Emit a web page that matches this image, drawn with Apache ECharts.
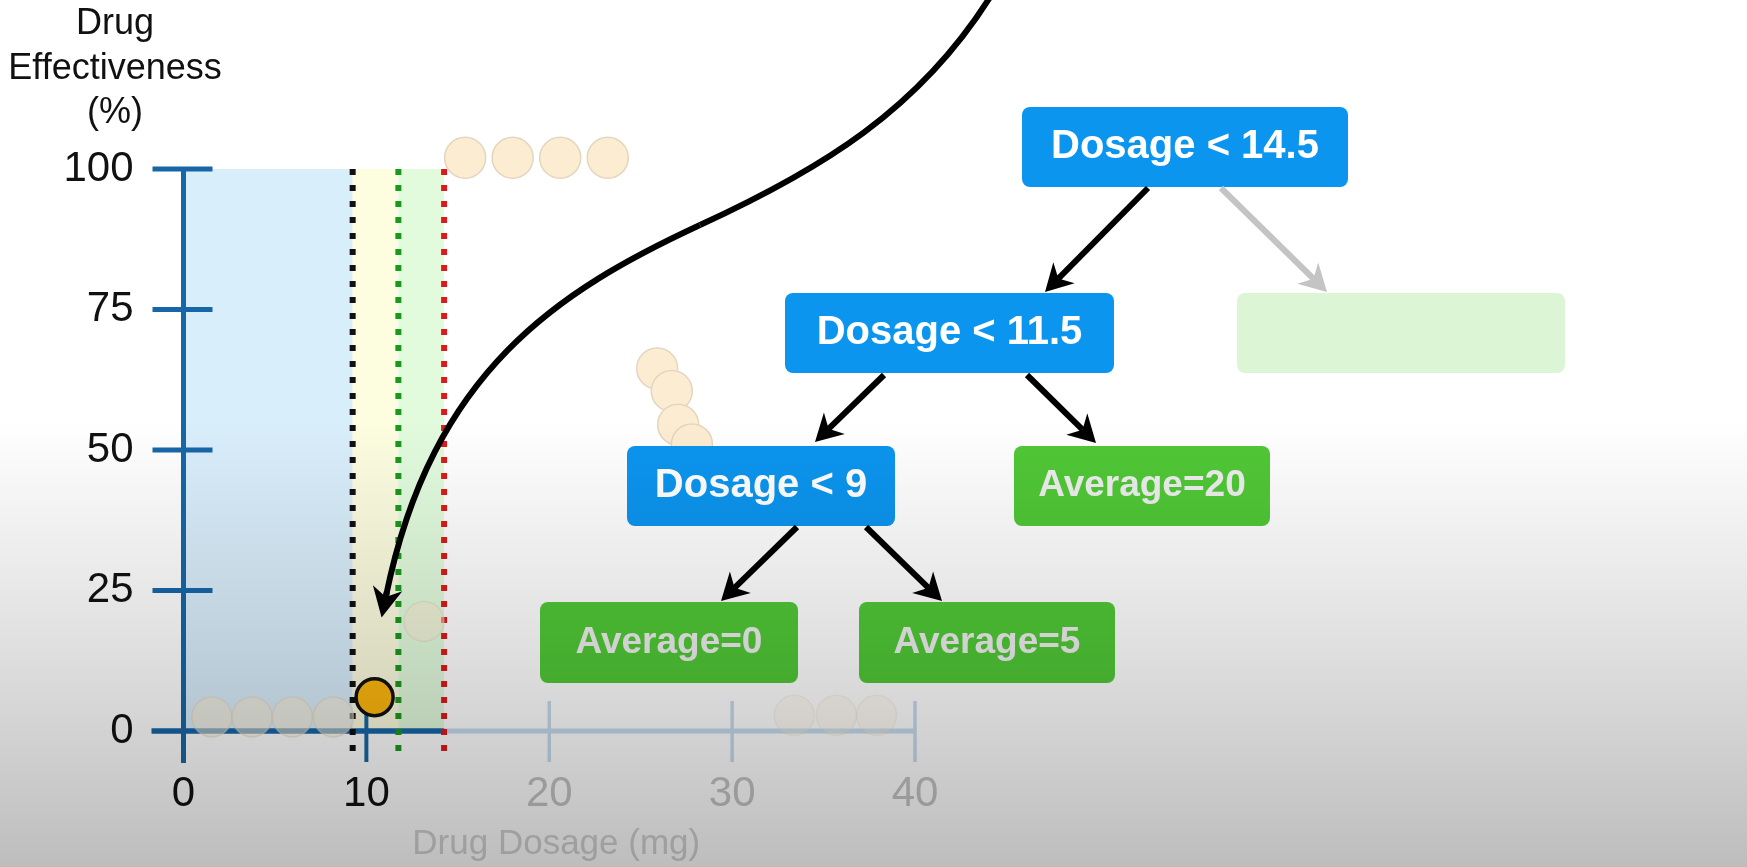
<!DOCTYPE html>
<html>
<head>
<meta charset="utf-8">
<script src="https://cdn.jsdelivr.net/npm/echarts@6/dist/echarts.min.js"></script>
<style>
html,body{margin:0;padding:0;background:#ffffff;}
#c{width:1747px;height:867px;}
</style>
</head>
<body>
<div id="c"></div>
<script>
// ---------------- data ----------------
const xTicks = [0, 10, 20, 30, 40];
const yTicks = [0, 25, 50, 75, 100];
const splitValues = [9.25, 11.75, 14.25];           // dotted split lines (black, green, red)

const lowLeftX  = [1.55, 3.75, 5.95, 8.2];
const lowLeftY  = [2.5, 2.5, 2.5, 2.5];
const highlightX = [10.45];
const highlightY = [6];
const midX = [13.15];
const midY = [19.5];
const topX = [15.4, 18.0, 20.6, 23.2];
const topY = [102, 102, 102, 102];
const chainX = [25.9, 26.7, 27.05, 27.8];
const chainY = [64.5, 60.5, 54.5, 51.0];
const lowRightX = [33.4, 35.7, 37.9];
const lowRightY = [2.8, 2.8, 2.8];

const nodeLabels = ['Dosage < 14.5', 'Dosage < 11.5', 'Dosage < 9', 'Average=20', 'Average=0', 'Average=5', ''];

const xTitle = 'Drug Dosage (mg)';
const yTitle = 'Drug\nEffectiveness\n(%)';

// ---------------- helpers ----------------
const zip = (a, b) => a.map((v, i) => [v, b[i]]);
const FONT = '"Liberation Sans", Arial, Helvetica, sans-serif';
const DARK_AXIS = '#1767a8';
const FADE_AXIS = '#c6dbee';
const regionColors = ['#d9eefb', '#fdfde0', '#e2fbdd'];
const splitColors = ['#111111', '#1a9a1a', '#dd1a1a'];

const chart = echarts.init(document.getElementById('c'));

function arrowEls(x1, y1, x2, y2, color, width, len, half) {
  const dx = x2 - x1, dy = y2 - y1;
  const d = Math.sqrt(dx * dx + dy * dy);
  const ux = dx / d, uy = dy / d;
  const px = -uy, py = ux;
  const bx = x2 - ux * len, by = y2 - uy * len;
  const nx = x2 - ux * len * 0.7, ny = y2 - uy * len * 0.7;
  return [
    {type: 'line', z: 60, shape: {x1: x1, y1: y1, x2: nx, y2: ny},
     style: {stroke: color, lineWidth: width, lineCap: 'butt'}},
    {type: 'polygon', z: 60, shape: {points: [[x2, y2], [bx + px * half, by + py * half], [nx, ny], [bx - px * half, by - py * half]]},
     style: {fill: color}}
  ];
}

const boxes = [
  {t: nodeLabels[0], x: 1022, y: 107, w: 326, h: 80, fill: '#0b95ef', tc: '#ffffff', fs: 40},
  {t: nodeLabels[6], x: 1237, y: 293, w: 328, h: 80, fill: '#dcf5d5', tc: '#ffffff', fs: 40},
  {t: nodeLabels[1], x: 785, y: 293, w: 329, h: 80, fill: '#0b95ef', tc: '#ffffff', fs: 40},
  {t: nodeLabels[3], x: 1014, y: 446, w: 256, h: 80, fill: '#50c836', tc: '#eeeeee', fs: 37},
  {t: nodeLabels[2], x: 627, y: 446, w: 268, h: 80, fill: '#0b95ef', tc: '#ffffff', fs: 40},
  {t: nodeLabels[4], x: 540, y: 602, w: 258, h: 81, fill: '#50c836', tc: '#eeeeee', fs: 37},
  {t: nodeLabels[5], x: 859, y: 602, w: 256, h: 81, fill: '#50c836', tc: '#eeeeee', fs: 37}
];

const graphics = [];
boxes.forEach(b => {
  graphics.push({type: 'rect', z: 55, shape: {x: b.x, y: b.y, width: b.w, height: b.h, r: 8}, style: {fill: b.fill}});
  if (b.t) {
    graphics.push({type: 'text', z: 56, x: b.x + b.w / 2, y: b.y + b.h / 2,
      style: {text: b.t, fill: b.tc, font: 'bold ' + b.fs + 'px ' + FONT,
              align: 'center', verticalAlign: 'middle', textAlign: 'center', textVerticalAlign: 'middle'}});
  }
});
// tree arrows
[].concat(
  arrowEls(1148, 188, 1045, 292, '#000', 6, 27, 15),
  arrowEls(1221, 188, 1327, 292, '#c4c4c4', 6, 27, 15),
  arrowEls(884, 375, 815, 442, '#000', 6, 27, 15),
  arrowEls(1027, 375, 1096, 443, '#000', 6, 27, 15),
  arrowEls(797, 527, 721, 601, '#000', 6, 27, 15),
  arrowEls(866, 527, 942, 601, '#000', 6, 27, 15)
).forEach(e => graphics.push(e));

// big S curve arrow
graphics.push({type: 'bezierCurve', z: 60,
  shape: {x1: 992, y1: -6, cpx1: 920, cpy1: 110, cpx2: 820, cpy2: 170, x2: 700, y2: 225},
  style: {stroke: '#000', lineWidth: 6, fill: null}});
graphics.push({type: 'bezierCurve', z: 60,
  shape: {x1: 700, y1: 225, cpx1: 560, cpy1: 290, cpx2: 432, cpy2: 370, x2: 386, y2: 596},
  style: {stroke: '#000', lineWidth: 6, fill: null}});
(function () {
  const dx = 386 - 432, dy = 596 - 370, d = Math.sqrt(dx * dx + dy * dy);
  const ux = dx / d, uy = dy / d;
  const tx = 386 + ux * 22, ty = 596 + uy * 22;
  arrowEls(386 - ux * 4, 596 - uy * 4, tx, ty, '#000', 6, 30, 15).forEach(e => graphics.push(e));
})();

// y title
graphics.push({type: 'text', z: 56, x: 115, y: 2,
  style: {text: yTitle, fill: '#111', font: '36px ' + FONT, lineHeight: 44.5,
          align: 'center', verticalAlign: 'top', textAlign: 'center', textVerticalAlign: 'top'}});

// video-like grey vignette at the bottom
graphics.push({type: 'rect', z: 200, silent: true,
  shape: {x: 0, y: 420, width: 1747, height: 447},
  style: {fill: new echarts.graphic.LinearGradient(0, 0, 0, 1, [
    {offset: 0, color: 'rgba(0,0,0,0)'},
    {offset: 0.5, color: 'rgba(0,0,0,0.12)'},
    {offset: 1, color: 'rgba(0,0,0,0.26)'}])}});

const circleStyle = (op) => ({color: '#fcecd2', borderColor: '#e3d6bf', borderWidth: 1.5, opacity: op});

const option = {
  animation: false,
  backgroundColor: '#ffffff',
  grid: {left: 183.5, top: 169, width: 731.5, height: 562, containLabel: false},
  xAxis: {
    type: 'value', min: 0, max: 40, interval: 10,
    axisLine: {show: false}, axisTick: {show: false}, splitLine: {show: false},
    axisLabel: {fontSize: 42, fontFamily: FONT, margin: 42,
      color: (v) => (Number(v) <= 10 ? '#111111' : '#c4c4c4')},
    name: xTitle, nameLocation: 'middle', nameGap: 96,
    nameTextStyle: {fontSize: 35, fontFamily: FONT, color: '#d2d2d2', padding: [0, 0, 0, 14]}
  },
  yAxis: {
    type: 'value', min: 0, max: 100, interval: 25,
    axisLine: {show: false}, axisTick: {show: false}, splitLine: {show: false},
    axisLabel: {fontSize: 42, fontFamily: FONT, margin: 50, color: '#111111'}
  },
  graphic: {elements: graphics},
  series: [
    { // shaded regions between splits
      type: 'custom', z: 1, silent: true, clip: false,
      data: [[0, splitValues[0]], [splitValues[0], splitValues[1]], [splitValues[1], splitValues[2]]],
      renderItem: (params, api) => {
        const p0 = api.coord([api.value(0), 100]);
        const p1 = api.coord([api.value(1), 0]);
        return {type: 'rect', shape: {x: p0[0], y: p0[1], width: p1[0] - p0[0], height: p1[1] - p0[1]},
                style: {fill: regionColors[params.dataIndex]}};
      }
    },
    { // axes lines & ticks drawn through the scales
      type: 'custom', z: 3, silent: true, clip: false,
      data: [[0]],
      renderItem: (params, api) => {
        const o = api.coord([0, 0]);
        const top = api.coord([0, 100]);
        const cut = api.coord([splitValues[2], 0]);
        const end = api.coord([40, 0]);
        const ch = [];
        ch.push({type: 'line', shape: {x1: cut[0], y1: o[1], x2: end[0], y2: o[1]}, style: {stroke: FADE_AXIS, lineWidth: 5}});
        xTicks.forEach(t => {
          if (t === 0) return;
          const p = api.coord([t, 0]);
          const c = t <= 10 ? DARK_AXIS : FADE_AXIS;
          ch.push({type: 'line', shape: {x1: p[0], y1: p[1] - 30, x2: p[0], y2: p[1] + 31}, style: {stroke: c, lineWidth: t <= 10 ? 4 : 3.5}});
        });
        ch.push({type: 'line', shape: {x1: o[0] - 32, y1: o[1], x2: cut[0], y2: o[1]}, style: {stroke: DARK_AXIS, lineWidth: 5.5}});
        ch.push({type: 'line', shape: {x1: top[0], y1: top[1], x2: o[0], y2: o[1] + 32}, style: {stroke: DARK_AXIS, lineWidth: 5}});
        yTicks.forEach(t => {
          if (t === 0) return;
          const p = api.coord([0, t]);
          ch.push({type: 'line', shape: {x1: p[0] - 31, y1: p[1], x2: p[0] + 29, y2: p[1]}, style: {stroke: DARK_AXIS, lineWidth: 5}});
        });
        return {type: 'group', children: ch};
      }
    },
    // dotted split lines
    ...splitValues.map((s, i) => ({
      type: 'line', z: 4, silent: true, clip: false, symbol: 'none',
      data: [[s, 100], [s, -5]],
      lineStyle: {color: splitColors[i], width: 6, type: [6, 10], cap: 'butt'}
    })),
    {type: 'scatter', z: 5, clip: false, symbolSize: 41, data: zip(topX, topY), itemStyle: circleStyle(1)},
    {type: 'scatter', z: 5, clip: false, symbolSize: 41, data: zip(chainX, chainY), itemStyle: circleStyle(1)},
    {type: 'scatter', z: 5, clip: false, symbolSize: 40, data: zip(lowLeftX, lowLeftY), itemStyle: circleStyle(0.55)},
    {type: 'scatter', z: 5, clip: false, symbolSize: 40, data: zip(midX, midY), itemStyle: circleStyle(0.5)},
    {type: 'scatter', z: 5, clip: false, symbolSize: 40, data: zip(lowRightX, lowRightY), itemStyle: circleStyle(0.25)},
    {type: 'scatter', z: 6, clip: false, symbolSize: 37, data: zip(highlightX, highlightY),
      itemStyle: {color: '#ffb80e', borderColor: '#111', borderWidth: 3.5, opacity: 1}}
  ]
};
chart.setOption(option);
</script>
</body>
</html>
